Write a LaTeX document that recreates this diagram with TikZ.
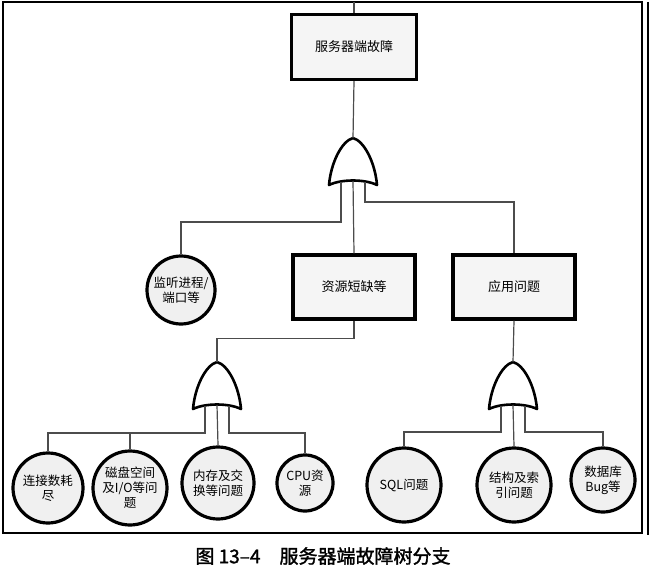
\documentclass[tikz,border=0pt]{standalone}
\usepackage{fontspec}
\setmainfont{Liberation Serif}
\newfontfamily\cjk{Noto Sans CJK SC}
\newfontfamily\capfont[FakeBold=1.5]{Noto Sans CJK SC}

\tikzset{
  orgate/.pic={
    \draw[line width=2.6pt,fill=white,line join=round]
      (-24,47) .. controls (-22,24) and (-11,3) .. (0,0)
      .. controls (11,3) and (22,24) .. (24,47)
      .. controls (12,41) and (-12,41) .. (-24,47) -- cycle;
    \coordinate (-top) at (0,0);
    \coordinate (-l) at (-12,44);
    \coordinate (-c) at (0,43);
    \coordinate (-r) at (12,44);
  }
}

\begin{document}
\begin{tikzpicture}[x=1pt,y=-1pt,
  every node/.style={font=\cjk\fontsize{12.5}{15}\selectfont,align=center},
  eventbox/.style={draw,line width=3.4pt,fill=gray!8,minimum width=122pt,minimum height=64pt,font=\cjk\fontsize{13}{16}\selectfont},
  basic/.style={draw,circle,line width=3.2pt,fill=gray!12,inner sep=0pt},
  wire/.style={gray!60!black,line width=1.2pt}]
  \useasboundingbox (0,0) rectangle (653,583);
  % frame
  \draw[line width=1.2pt] (3,2) rectangle (642,533);
  \draw[line width=1.2pt] (648,2) -- (648,535);
  \coordinate (entry) at (354,2);

  % events
  \node[eventbox,minimum width=125pt,minimum height=65pt] (fault) at (354,47) {服务器端故障};
  \node[eventbox] (res) at (354,287) {资源短缺等};
  \node[eventbox] (app) at (514,287) {应用问题};
  \node[basic,minimum size=68pt] (mon) at (181,290) {监听进程/\\端口等};

  \node[basic,minimum size=70pt] (conn) at (48,488) {连接数耗\\尽};
  \node[basic,minimum size=74pt] (disk) at (130,488) {磁盘空间\\及I/O等问\\题};
  \node[basic,minimum size=72pt] (mem) at (218,483) {内存及交\\换等问题};
  \node[basic,minimum size=56pt] (cpu) at (305,483) {CPU资\\源};
  \node[basic,minimum size=74pt] (sql) at (404,485) {SQL问题};
  \node[basic,minimum size=74pt] (idx) at (514,485) {结构及索\\引问题};
  \node[basic,minimum size=64pt] (bug) at (603,480) {数据库\\Bug等};

  % gates
  \pic (g1) at (353,138) {orgate};
  \pic (g2) at (217,362) {orgate};
  \pic (g3) at (513,362) {orgate};

  % connectors
  \draw[wire] (entry) -- (fault.north);
  \draw[wire] (fault.south) -- (g1-top);
  \draw[wire] (g1-l) -- ++(0,40) -| (mon.north);
  \draw[wire] (g1-c) -- (res.north);
  \draw[wire] (g1-r) -- ++(0,20) -| (app.north);

  \draw[wire] (res.south) -- ++(0,18) -| (g2-top);
  \draw[wire] (g2-l) -- ++(0,27) -| (conn.north);
  \draw[wire] (g2-l) ++(0,27) -| (disk.north);
  \draw[wire] (g2-c) -- (mem.north);
  \draw[wire] (g2-r) -- ++(0,27) -| (cpu.north);

  \draw[wire] (app.south) -- (g3-top);
  \draw[wire] (g3-l) -- ++(0,26) -| (sql.north);
  \draw[wire] (g3-c) -- (idx.north);
  \draw[wire] (g3-r) -- ++(0,26) -| (bug.north);

  % caption
  \node[font=\capfont\fontsize{19}{22}\selectfont] (cap) at (323,556) {图 13–4\hspace{1em}服务器端故障树分支};
\end{tikzpicture}
\end{document}
